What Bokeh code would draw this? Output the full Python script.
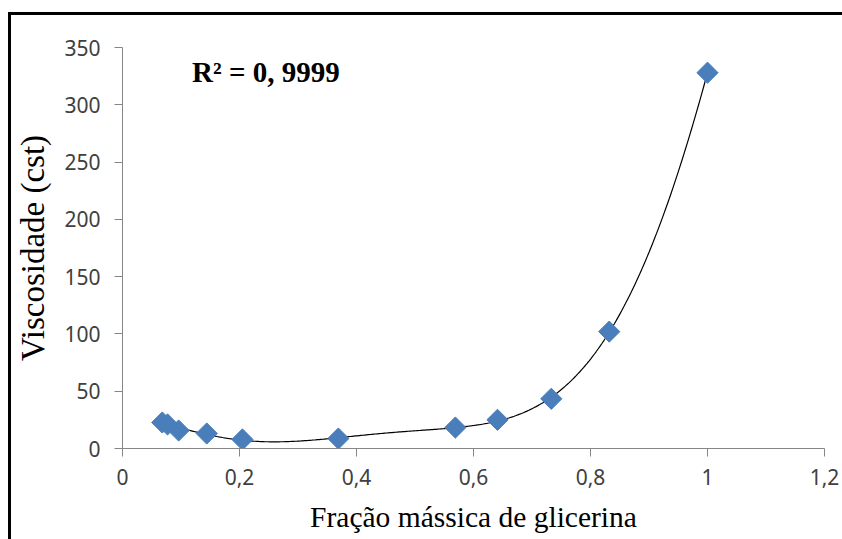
import numpy as np
from bokeh.plotting import figure
from bokeh.models import Label, FixedTicker, Range1d, ColumnDataSource
from bokeh.embed import file_html
from bokeh.resources import INLINE

# ---- data ----
fracao = [0.068, 0.077, 0.096, 0.144, 0.205, 0.369, 0.569, 0.641, 0.733, 0.832, 1.0]
viscosidade = [22.7, 21.0, 15.7, 13.1, 7.9, 8.7, 18.3, 25.0, 43.4, 102.0, 328.0]
x_ticks = [0, 0.2, 0.4, 0.6, 0.8, 1.0, 1.2]
x_tick_labels = ["0", "0,2", "0,4", "0,6", "0,8", "1", "1,2"]
y_ticks = [0, 50, 100, 150, 200, 250, 300, 350]
y_tick_labels = ["0", "50", "100", "150", "200", "250", "300", "350"]
r2_text = "R² = 0, 9999"
x_title = "Fração mássica de glicerina"
y_title = "Viscosidade (cst)"

# polynomial trendline fitted to the points (as the spreadsheet trendline)
coef = np.polyfit(fracao, viscosidade, 6)
xs = np.linspace(min(fracao), max(fracao), 300)
ys = np.polyval(coef, xs)

p = figure(width=834, height=527, output_backend="svg", toolbar_location=None,
           x_range=Range1d(0, 1.2), y_range=Range1d(0, 350),
           min_border_left=111, min_border_top=32, min_border_right=21, min_border_bottom=94,
           margin=(12, 0, 0, 8),
           styles={"border-left": "3px solid black", "border-top": "3px solid black"})
p.outline_line_color = None
p.grid.grid_line_color = None
p.background_fill_color = "white"
p.border_fill_color = "white"

p.line(xs, ys, line_color="black", line_width=1.2)
src = ColumnDataSource(dict(x=fracao, y=viscosidade))
p.scatter("x", "y", source=src, marker="square", angle=np.pi / 4, size=15,
          fill_color="#4a7ebb", line_color="#4a7ebb")

for ax, ticks, labels in ((p.xaxis[0], x_ticks, x_tick_labels), (p.yaxis[0], y_ticks, y_tick_labels)):
    ax.ticker = FixedTicker(ticks=ticks)
    ax.major_label_overrides = {t: l for t, l in zip(ticks, labels)}
    ax.axis_line_color = "#868686"
    ax.major_tick_line_color = "#868686"
    ax.major_tick_in = 0
    ax.major_tick_out = 8
    ax.minor_tick_line_color = None
    ax.major_label_text_font = "Noto Sans"
    ax.major_label_text_font_size = "21px"
    ax.major_label_text_color = "#404040"
    ax.axis_label_text_font = "Liberation Serif"
    ax.axis_label_text_font_style = "normal"
    ax.axis_label_text_color = "black"

p.xaxis.axis_label = x_title
p.yaxis.axis_label = y_title
p.xaxis.axis_label_text_font_size = "29.5px"
p.yaxis.axis_label_text_font_size = "33px"
p.xaxis.major_label_standoff = 12
p.yaxis.major_label_standoff = 14
p.xaxis.axis_label_standoff = 13
p.yaxis.axis_label_standoff = 10

p.add_layout(Label(x=0.119, y=329, text=r2_text, text_font="Liberation Serif",
                   text_font_style="bold", text_font_size="29px", text_color="black",
                   text_baseline="alphabetic"))

open("out.html", "w").write(file_html(p, INLINE))
